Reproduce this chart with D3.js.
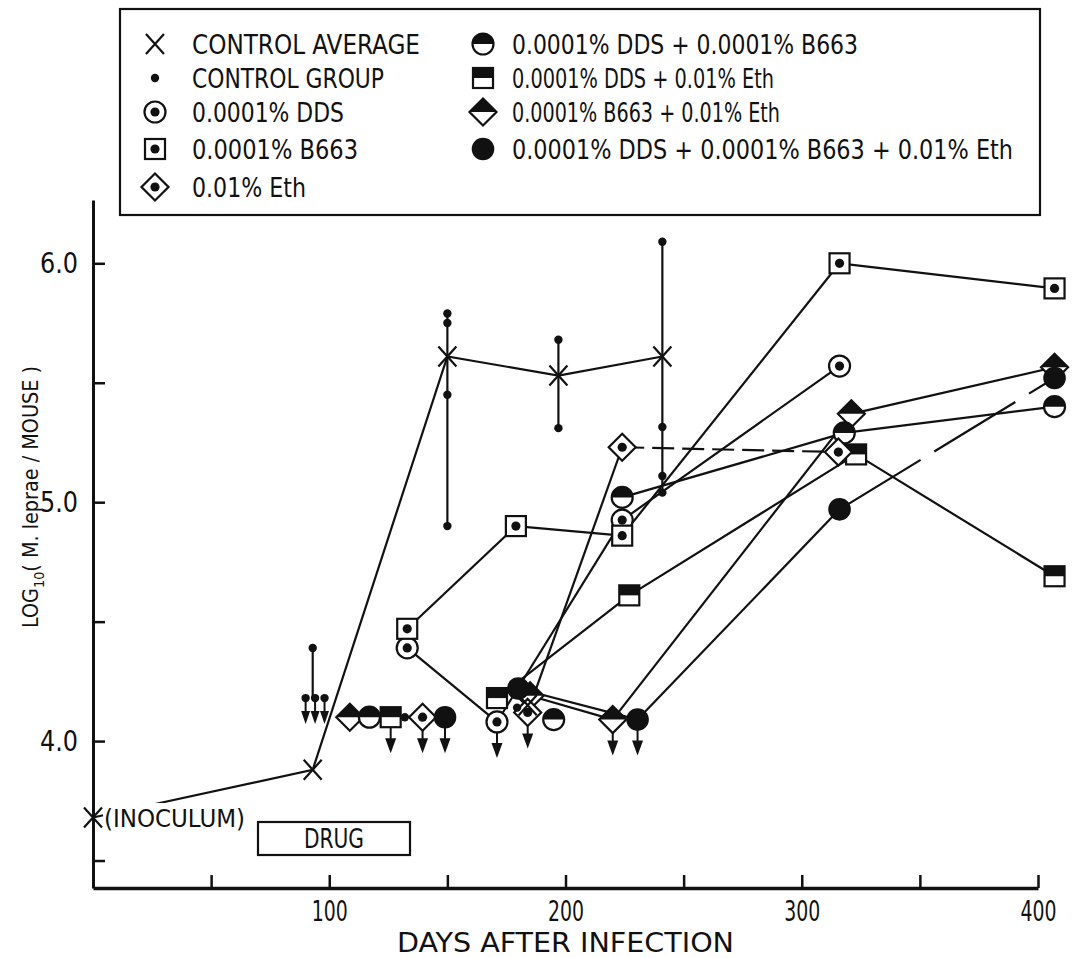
<!DOCTYPE html>
<html><head><meta charset="utf-8">
<script src="https://cdn.jsdelivr.net/npm/d3@7"></script>
<style>
html,body{margin:0;padding:0;background:#fff;}
svg text{font-family:"Liberation Sans Narrow","DejaVu Sans Condensed","Liberation Sans",Arial,sans-serif;fill:#111;}
</style></head>
<body>
<svg id="chart" width="1077" height="958"></svg>
<script>
// ---------------- DATA ----------------
const xTicksMajor = [100, 200, 300, 400];
const xTicksMinor = [50, 150, 250, 350];
const yTicksMajor = [4, 5, 6];
const yTicksMinor = [3.5, 4.5, 5.5];
const yTickLabels = ["4.0", "5.0", "6.0"];

const controlAverage = [[0, 3.68], [93, 3.88], [150, 5.61], [197, 5.53], [241, 5.61]];
const controlAverageExtra = [[184, 4.15]];
// [day, value, belowLimit]
const controlGroup = [
  [93, 4.39, 0], [90, 4.18, 1], [94, 4.18, 1], [98, 4.18, 1],
  [150, 5.79, 0], [150, 5.75, 0], [150, 5.45, 0], [150, 4.90, 0],
  [197, 5.68, 0], [197, 5.31, 0],
  [241, 6.09, 0], [241, 5.315, 0], [241, 5.11, 0], [241, 5.04, 0],
  [132, 4.10, 0], [179.5, 4.14, 0]
];
const controlGroupRanges = [[93, 4.18, 4.39], [150, 4.90, 5.79], [197, 5.31, 5.68], [241, 5.04, 6.09]];

// each series: list of connected runs of [day, value, belowLimit]
const dds      = [[[133, 4.39], [171, 4.08, 1], [224, 4.925], [316, 5.57]]];
const b663     = [[[133, 4.47], [179, 4.90], [224, 4.86], [316, 6.0], [407, 5.895]]];
const eth      = [[[139.5, 4.10, 1]], [[184, 4.12, 1], [224, 5.23], [315.5, 5.21]]];
const ddsB663  = [[[117, 4.10]], [[195, 4.09]], [[224, 5.02], [318, 5.29], [407, 5.40]]];
const ddsEth   = [[[126, 4.10, 1]], [[171, 4.18], [227, 4.61], [323, 5.20], [407, 4.69]]];
const b663Eth  = [[[108.7, 4.10]], [[185, 4.19], [220, 4.09, 1], [321, 5.37], [407, 5.565]]];
const allThree = [[[149, 4.10, 1]], [[180, 4.22], [230.5, 4.09, 1], [316, 4.97], [407, 5.52]]];

const legendLeft = [
  ["x", "CONTROL AVERAGE"], ["dot", "CONTROL GROUP"], ["circleDot", "0.0001% DDS"],
  ["squareDot", "0.0001% B663"], ["diamondDot", "0.01% Eth"]
];
const legendRight = [
  ["halfCircle", "0.0001% DDS + 0.0001% B663"], ["halfSquare", "0.0001% DDS + 0.01% Eth"],
  ["halfDiamond", "0.0001% B663 + 0.01% Eth"], ["filledCircle", "0.0001% DDS + 0.0001% B663 + 0.01% Eth"]
];

// ---------------- LAYOUT ----------------
const INK = "#111";
const svg = d3.select("#chart");
svg.append("rect").attr("width", 1077).attr("height", 958).attr("fill", "#fff");

const x = d3.scaleLinear().domain([0, 400]).range([93, 1038]);
const y = d3.scaleLinear().domain([3.385, 6.265]).range([888, 200]);

function fit(sel, w) { sel.attr("textLength", w).attr("lengthAdjust", "spacingAndGlyphs"); return sel; }

// ---------------- AXES ----------------
const xAxis = d3.axisBottom(x).tickValues(xTicksMajor.concat(xTicksMinor))
  .tickFormat(d => xTicksMajor.includes(d) ? String(d) : "")
  .tickSizeInner(-13).tickSizeOuter(0).tickPadding(12);
const gx = svg.append("g").attr("transform", "translate(0,888)").call(xAxis);
gx.select(".domain").attr("stroke", INK).attr("stroke-width", 3.5);
gx.selectAll(".tick line").attr("stroke", INK).attr("stroke-width", 2.5);
gx.selectAll(".tick text").attr("font-size", 28).attr("fill", INK).attr("dy", "0.75em")
  .each(function () { if (this.textContent) fit(d3.select(this), 36); });

const yAxis = d3.axisLeft(y).tickValues(yTicksMajor.concat(yTicksMinor))
  .tickFormat(d => { const i = yTicksMajor.indexOf(d); return i >= 0 ? yTickLabels[i] : ""; })
  .tickSizeInner(-12).tickSizeOuter(0).tickPadding(15);
const gy = svg.append("g").attr("transform", "translate(93,0)").call(yAxis);
gy.select(".domain").attr("stroke", INK).attr("stroke-width", 3);
gy.selectAll(".tick line").attr("stroke", INK).attr("stroke-width", 2.5);
gy.selectAll(".tick text").attr("font-size", 28).attr("fill", INK)
  .each(function () { if (this.textContent) fit(d3.select(this), 38); });

fit(svg.append("text").attr("x", x(200)).attr("y", 952).attr("text-anchor", "middle")
  .attr("font-size", 27).text("DAYS AFTER INFECTION"), 337);

const yl = svg.append("text").attr("transform", "translate(38,497) rotate(-90)")
  .attr("text-anchor", "middle").attr("font-size", 21);
yl.append("tspan").text("LOG");
yl.append("tspan").attr("font-size", 14).attr("dy", 6).text("10");
yl.append("tspan").attr("dy", -6).text("( M. leprae / MOUSE )");
fit(yl, 262);

// ---------------- MARKERS ----------------
function marker(sel, type, cx, cy) {
  const g = sel.append("g").attr("transform", `translate(${cx},${cy})`);
  const R = 10.5, S = 10, D = 13.5, sw = 2.2;
  const stroke = s => s.attr("stroke", INK).attr("stroke-width", sw);
  switch (type) {
    case "x":
      g.append("path").attr("d", "M-9,-10L9,10M-9,10L9,-10").attr("fill", "none")
        .attr("stroke", INK).attr("stroke-width", 2.2); break;
    case "dot":
      g.append("circle").attr("r", 4.2).attr("fill", INK); break;
    case "circleDot":
      stroke(g.append("circle").attr("r", R).attr("fill", "#fff"));
      g.append("circle").attr("r", 4.6).attr("fill", INK); break;
    case "squareDot":
      stroke(g.append("rect").attr("x", -S).attr("y", -S).attr("width", 2 * S).attr("height", 2 * S).attr("fill", "#fff"));
      g.append("circle").attr("r", 4.6).attr("fill", INK); break;
    case "diamondDot":
      stroke(g.append("path").attr("d", `M0,${-D}L${D},0L0,${D}L${-D},0Z`).attr("fill", "#fff"));
      g.append("circle").attr("r", 4.6).attr("fill", INK); break;
    case "halfCircle":
      g.append("circle").attr("r", R).attr("fill", "#fff");
      g.append("path").attr("d", `M${-R},0A${R},${R} 0 0 1 ${R},0Z`).attr("fill", INK);
      stroke(g.append("circle").attr("r", R).attr("fill", "none")); break;
    case "halfSquare":
      g.append("rect").attr("x", -S).attr("y", -S).attr("width", 2 * S).attr("height", 2 * S).attr("fill", "#fff");
      g.append("rect").attr("x", -S).attr("y", -S).attr("width", 2 * S).attr("height", S).attr("fill", INK);
      stroke(g.append("rect").attr("x", -S).attr("y", -S).attr("width", 2 * S).attr("height", 2 * S).attr("fill", "none")); break;
    case "halfDiamond":
      g.append("path").attr("d", `M0,${-D}L${D},0L0,${D}L${-D},0Z`).attr("fill", "#fff");
      g.append("path").attr("d", `M${-D},0L0,${-D}L${D},0Z`).attr("fill", INK);
      stroke(g.append("path").attr("d", `M0,${-D}L${D},0L0,${D}L${-D},0Z`).attr("fill", "none")); break;
    case "filledCircle":
      g.append("circle").attr("r", R + 0.8).attr("fill", INK); break;
  }
  return g;
}
function arrow(sel, cx, cy, from, to, hw, hh) {
  sel.append("line").attr("x1", cx).attr("x2", cx).attr("y1", cy + from).attr("y2", cy + to - 4)
    .attr("stroke", INK).attr("stroke-width", 2);
  sel.append("path").attr("d", `M${cx - hw},${cy + to - hh}L${cx + hw},${cy + to - hh}L${cx},${cy + to}Z`).attr("fill", INK);
}

// ---------------- PLOT ----------------
const plot = svg.append("g");
const line = d3.line().x(d => x(d[0])).y(d => y(d[1]));
const lineLayer = plot.append("g").attr("fill", "none").attr("stroke", INK).attr("stroke-width", 2.2);
const arrowLayer = plot.append("g");
const markLayer = plot.append("g");

controlGroupRanges.forEach(r => {
  lineLayer.append("line").attr("x1", x(r[0])).attr("x2", x(r[0])).attr("y1", y(r[1])).attr("y2", y(r[2]));
});
lineLayer.append("path").attr("d", line(controlAverage));

const series = [
  [dds, "circleDot", {}], [b663, "squareDot", {}], [eth, "diamondDot", {1: [2]}],
  [ddsB663, "halfCircle", {}], [ddsEth, "halfSquare", {}], [b663Eth, "halfDiamond", {}],
  [allThree, "filledCircle", {1: [3]}]
];
series.forEach(([runs, type, dashed]) => {
  runs.forEach((run, ri) => {
    for (let i = 1; i < run.length; i++) {
      const isDash = dashed[ri] && dashed[ri].includes(i);
      const p = lineLayer.append("path").attr("d", line([run[i - 1], run[i]]));
      if (isDash) p.attr("stroke-dasharray", type === "filledCircle" ? "95,16" : "22,8");
    }
  });
});

svg.append("rect").attr("x", 103).attr("y", 803).attr("width", 145).attr("height", 28).attr("fill", "#fff");
fit(svg.append("text").attr("x", 104).attr("y", 827).attr("font-size", 25).text("(INOCULUM)"), 141);

series.forEach(([runs]) => {
  runs.forEach(run => run.forEach(d => {
    if (d[2]) arrowLayer.call(s => arrow(s, x(d[0]), y(d[1]), 10, 36, 5.5, 15));
  }));
});
controlGroup.forEach(d => {
  if (d[2]) arrowLayer.call(s => arrow(s, x(d[0]), y(d[1]), 3, 26, 4.5, 13));
});
const order = [5, 3, 4, 2, 0, 1, 6];
order.forEach(k => {
  const [runs, type] = series[k];
  runs.forEach(run => run.forEach(d => marker(markLayer, type, x(d[0]), y(d[1]))));
});
controlGroup.forEach(d => marker(markLayer, "dot", x(d[0]), y(d[1])));
controlAverage.concat(controlAverageExtra).forEach(d => marker(markLayer, "x", x(d[0]), y(d[1])));

svg.append("rect").attr("x", 258).attr("y", 822).attr("width", 152).attr("height", 33)
  .attr("fill", "#fff").attr("stroke", INK).attr("stroke-width", 2.2);
fit(svg.append("text").attr("x", 334).attr("y", 848).attr("text-anchor", "middle").attr("font-size", 26).text("DRUG"), 60);

// ---------------- LEGEND ----------------
const lg = svg.append("g");
lg.append("rect").attr("x", 120).attr("y", 9).attr("width", 920).attr("height", 206)
  .attr("fill", "#fff").attr("stroke", INK).attr("stroke-width", 2.2);
const rowY = [44, 78, 112, 149, 187];
const leftW = [228, 192, 152, 166, 114];
const rightW = [346, 262, 268, 501];
legendLeft.forEach((d, i) => {
  marker(lg, d[0], 155, rowY[i]);
  fit(lg.append("text").attr("x", 192).attr("y", rowY[i] + 10).attr("font-size", 27).text(d[1]), leftW[i]);
});
legendRight.forEach((d, i) => {
  marker(lg, d[0], 483, rowY[i]);
  fit(lg.append("text").attr("x", 512).attr("y", rowY[i] + 10).attr("font-size", 27).text(d[1]), rightW[i]);
});
</script>
</body></html>
